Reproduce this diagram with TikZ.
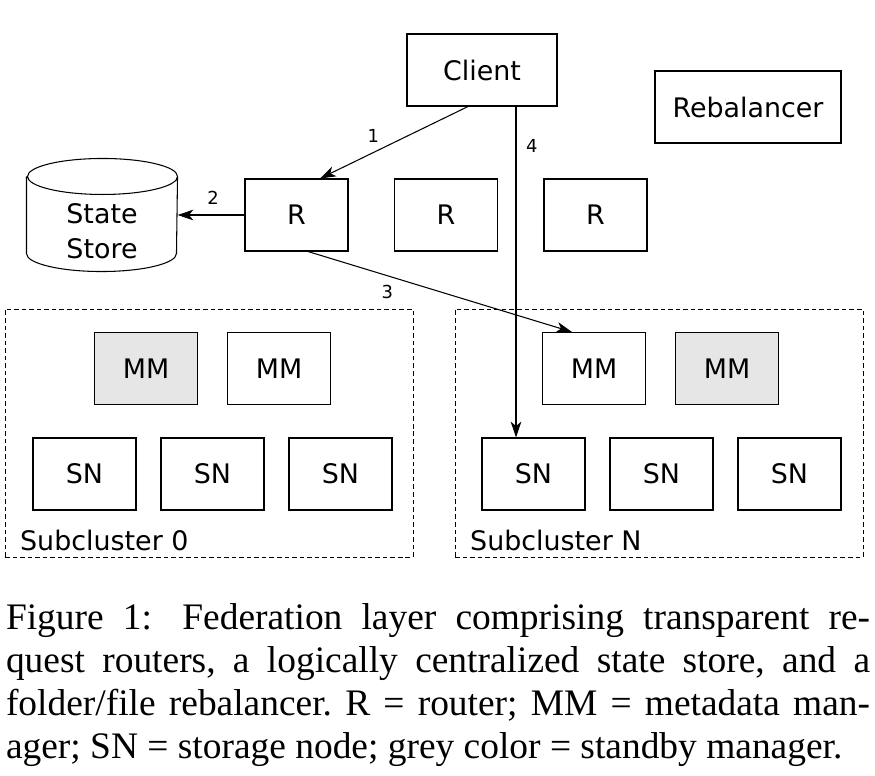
\documentclass[tikz,border=0pt]{standalone}
\usepackage{fontspec}
\setmainfont{Liberation Serif}
\newfontfamily\diagfont{DejaVu Sans}
\usetikzlibrary{arrows.meta,positioning}
\definecolor{mmgrey}{HTML}{E6E6E6}

\begin{document}
\begin{tikzpicture}[->, >={Stealth[length=9pt,width=6pt,inset=2.5pt]}, auto, semithick, node distance=2.99cm]
        \tikzstyle{every node}=[font=\diagfont\fontsize{15.3}{19.8}\selectfont]
        \tikzstyle{box}=[draw=black,fill=white,minimum width=2.06cm,minimum height=1.44cm,inner sep=0pt]
        \tikzstyle{standby}=[box,fill=mmgrey]
        \tikzstyle{cluster}=[draw=black,thin,dash pattern=on 2.6pt off 1.7pt,minimum width=8.16cm,minimum height=4.96cm]
        \tikzstyle{num}=[font=\diagfont\fontsize{10.2}{12}\selectfont,inner sep=2.5pt]
        \useasboundingbox (0,0) rectangle (17.5,-15.5);

        \node[box,minimum width=3cm]     (client)  at (9.64,-1.40)   {Client};
        \node[box,minimum width=3.72cm]  (rebal)   at (14.96,-2.14)  {Rebalancer};

        \node[box]    (r1)  at (5.93,-4.30)  {R};
        \node[box]    (r2)[right of=r1]      {R};
        \node[box]    (r3)[right of=r2]      {R};

        \node[minimum width=3cm,minimum height=2.24cm,inner sep=0pt] (store) at (2.04,-4.30) {};
        \draw[-] ([yshift=-0.36cm]store.north west) -- ([yshift=0.36cm]store.south west)
            arc[start angle=180,end angle=360,x radius=1.5cm,y radius=0.36cm]
            -- ([yshift=-0.36cm]store.north east)
            arc[start angle=0,end angle=180,x radius=1.5cm,y radius=0.36cm]
            arc[start angle=180,end angle=360,x radius=1.5cm,y radius=0.36cm];
        \node[align=center,inner sep=0pt] (storename) at ([yshift=-0.32cm]store.center) {State\\Store};

        \node[cluster]  (sub0)  at (4.18,-8.66)   {};
        \node[cluster]  (subN)  at (13.18,-8.66)  {};
        \node[anchor=west,inner sep=0pt] (sub0name) at ([shift={(0.30,0.34)}]sub0.south west) {Subcluster 0};
        \node[anchor=west,inner sep=0pt] (subNname) at ([shift={(0.30,0.34)}]subN.south west) {Subcluster N};

        \node[standby]  (mm1)  at (2.92,-7.37)                   {MM};
        \node[box]      (mm2)[right of=mm1,node distance=2.66cm] {MM};
        \node[box]      (mm3)  at (11.88,-7.37)                  {MM};
        \node[standby]  (mm4)[right of=mm3,node distance=2.66cm] {MM};

        \node[box]    (sn1)  at (1.69,-9.48)                      {SN};
        \node[box]    (sn2)[right of=sn1,node distance=2.56cm]    {SN};
        \node[box]    (sn3)[right of=sn2,node distance=2.56cm]    {SN};
        \node[box]    (sn4)  at (10.67,-9.48)                     {SN};
        \node[box]    (sn5)[right of=sn4,node distance=2.56cm]    {SN};
        \node[box]    (sn6)[right of=sn5,node distance=2.56cm]    {SN};

        \path
            ([xshift=-0.28cm]client.south) edge node[num,pos=0.64,above=2.8pt]{1} ([xshift=0.47cm]r1.north)
            (r1)                           edge node[num,pos=0.47,above=3.4pt]{2} (store)
            ([xshift=0.23cm]r1.south)      edge node[num,pos=0.3,below=2.6pt]{3}  ([xshift=-0.44cm]mm3.north)
            ([xshift=0.68cm]client.south)  edge node[num,pos=0.12,right=2.9pt]{4} ([xshift=-0.35cm]sn4.north)
        ;

        \node[anchor=north west,inner sep=0pt,text width=17.28cm,align=justify,
              font=\rmfamily\frenchspacing\fontsize{21.3}{24.4}\selectfont] (caption) at (0.11,-12.06)
            {Figure 1:\hspace{0.3em} Federation layer comprising transparent re-\linebreak
             quest routers, a logically centralized state store, and a\linebreak
             folder/file rebalancer. R = router; MM = metadata man-\linebreak
             ager; SN = storage node; grey color = standby manager.};
    \end{tikzpicture}
\end{document}
